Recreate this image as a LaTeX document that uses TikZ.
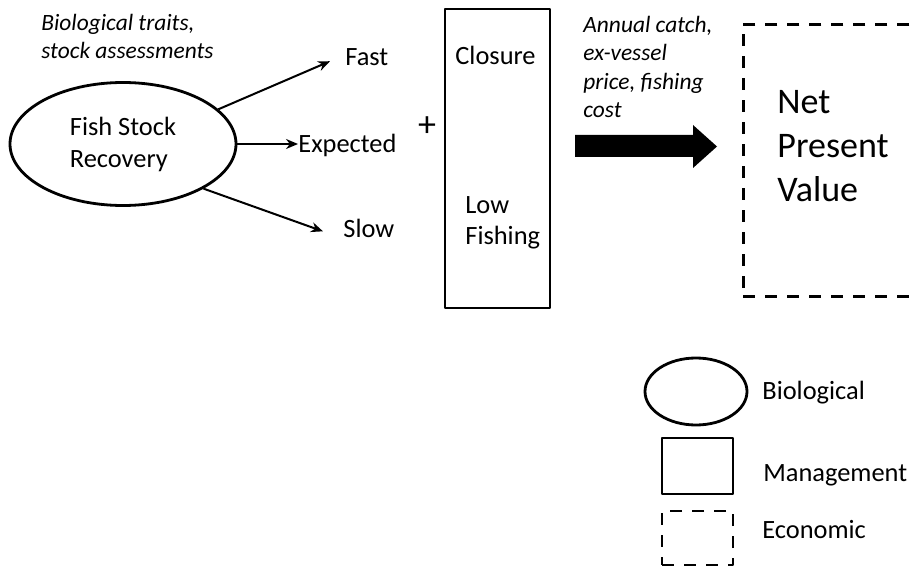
\documentclass[tikz,border=0pt]{standalone}
\usepackage{fontspec}
\setmainfont{Carlito}
\usetikzlibrary{shapes.geometric,arrows.meta}
\begin{document}
\begin{tikzpicture}[x=0.5pt, y=-0.5pt, line join=round, >={Stealth[length=6pt,width=5pt]},
		txt/.style={inner sep=0pt, anchor=base west, align=left, font=\fontsize{13.2}{16}\selectfont},
		note/.style={txt, font=\fontsize{11.7}{14.3}\selectfont\itshape},
		bio/.style={draw, line width=1.4pt, ellipse, inner sep=0pt},
		mgmt/.style={draw, line width=1.4pt, rectangle, inner sep=0pt},
		econ/.style={draw, line width=1.4pt, dash pattern=on 6pt off 5pt, rectangle, inner sep=0pt},
		outarrow/.style={->, line width=1pt}]
		\useasboundingbox (0,0) rectangle (917,567);
		\clip (0,0) rectangle (917,567);
		\node[bio, minimum width=113pt, minimum height=61.5pt, align=left, font=\fontsize{13.2}{16}\selectfont] (stock) at (123,144) {Fish Stock\\Recovery};
		\node[note] (traits) at (41,59) {Biological traits,\\stock assessments};
		\node[txt] (fast) at (345,66) {Fast};
		\node[txt] (expected) at (298,153) {Expected};
		\node[txt] (slow) at (343,238) {Slow};
		\draw[outarrow] (stock.20) -- ([xshift=-7.5pt,yshift=-1.8pt]fast.west);
		\draw[outarrow] (stock.east) -- (stock.east -| expected.west);
		\draw[outarrow] (stock.-29) -- ([xshift=-10pt,yshift=-1.2pt]slow.west);
		\node[inner sep=0pt, font=\fontsize{18}{20}\selectfont] (plus) at (427,127) {+};
		\node[mgmt, minimum width=52.5pt, minimum height=149.5pt] (policy) at (497.5,158.5) {};
		\node[txt] (closure) at (455,65) {Closure};
		\node[txt] (lowfish) at (465,245) {Low\\Fishing};
		\node[note] (inputs) at (583,118) {Annual catch,\\ex-vessel\\price, fishing\\cost};
		\fill (575,135) -- (693,135) -- (693,125) -- (717,146.5) -- (693,168) -- (693,157) -- (575,157) -- cycle;
		\node[econ, anchor=north west, minimum width=100pt, minimum height=136pt] (npv) at (742,23) {};
		\node[txt, font=\fontsize{18}{22.2}\selectfont] (npvlabel) at (777,202) {Net\\Present\\Value};
		\node[bio, minimum width=51pt, minimum height=33.5pt] (legbio) at (696,391.5) {};
		\node[mgmt, minimum width=35.5pt, minimum height=28pt] (legmgmt) at (697.5,466) {};
		\node[econ, minimum width=35.5pt, minimum height=27pt] (legecon) at (697.5,538) {};
		\foreach \n/\t/\x/\y in {legbiotext/Biological/762/400, legmgmttext/Management/763/481, legecontext/Economic/762/538}{\node[txt] (\n) at (\x,\y) {\t};}
	\end{tikzpicture}
\end{document}
